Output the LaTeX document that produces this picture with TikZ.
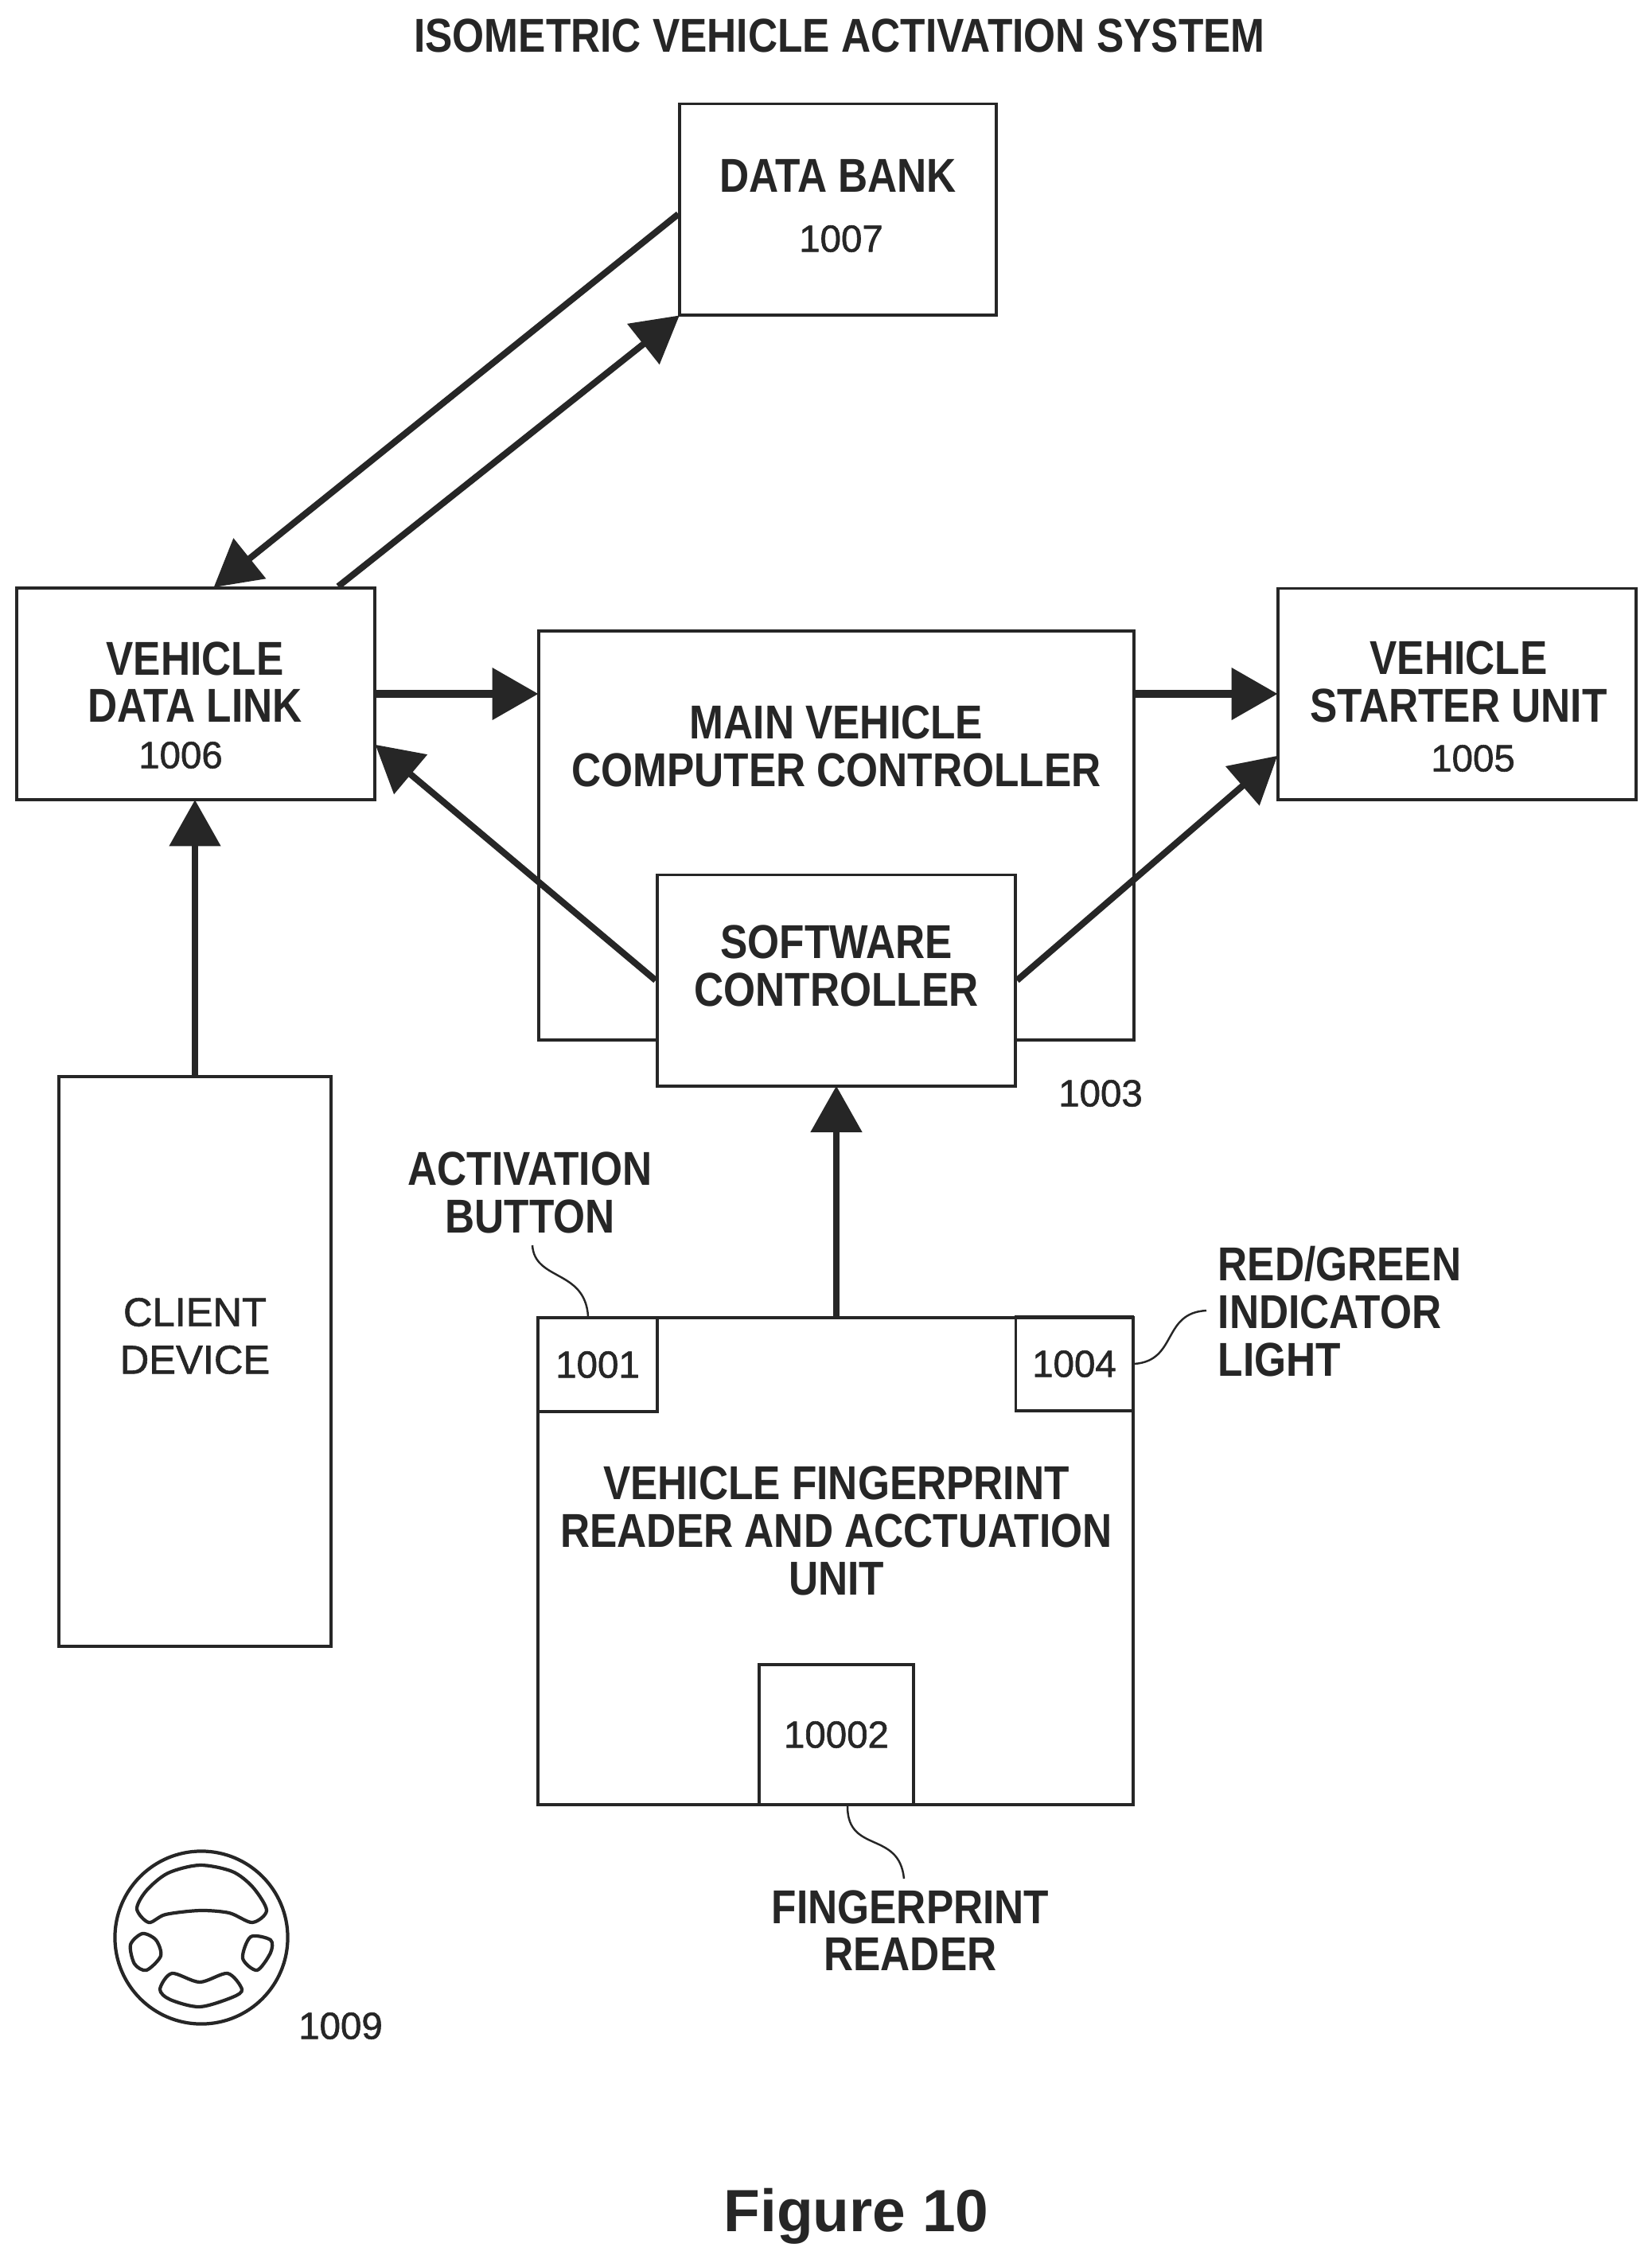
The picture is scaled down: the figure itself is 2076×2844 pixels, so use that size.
\documentclass[tikz,border=0pt]{standalone}
\usepackage{fontspec}
\setmainfont{Liberation Sans}
\newfontfamily\headfamily{Liberation Sans}[FakeStretch=0.86]
\newfontfamily\numfamily{Liberation Sans}[FakeBold=1.2]
\usetikzlibrary{arrows.meta,calc}
\colorlet{ink}{black!85}
\tikzset{
	box/.style={draw=ink,line width=1.1pt,inner sep=0pt},
	head/.style={text=ink,align=center,inner sep=0pt,font=\headfamily\bfseries\fontsize{17pt}{17pt}\selectfont},
	num/.style={text=ink,align=center,inner sep=0pt,font=\numfamily\fontsize{13.5pt}{13.5pt}\selectfont},
	flow/.style={draw=ink,line width=2.3pt,-{Triangle[length=16.5pt,width=18pt]},shorten >=-0.5pt},
	flowh/.style={flow,line width=2.9pt},
	flowv/.style={flow,line width=2pt},
	leader/.style={draw=ink,line width=0.7pt},
	wheelline/.style={draw=ink,line width=1.2pt}
}
\begin{document}
\begin{tikzpicture}[x=0.01cm,y=-0.01cm]
	\useasboundingbox (0,0) rectangle (2076,2844);
	\node[head] (title) at (1055,45) {ISOMETRIC VEHICLE ACTIVATION SYSTEM};
	\node[box,minimum width=3.97cm,minimum height=2.65cm] (bank) at (1053,263) {};
	\node[head] (banktext) at (1053,221) {DATA BANK};
	\node[num] (banknum) at (1057,300) {1007};
	\node[box,minimum width=4.5cm,minimum height=2.66cm] (link) at (246,872) {};
	\node[head] (linktext) at (245,857) {VEHICLE\\DATA LINK};
	\node[num] (linknum) at (227,949) {1006};
	\node[box,minimum width=7.48cm,minimum height=5.14cm] (main) at (1051,1050) {};
	\node[head] (maintext) at (1051,938) {MAIN VEHICLE\\COMPUTER CONTROLLER};
	\node[box,fill=white,minimum width=4.5cm,minimum height=2.65cm] (soft) at (1051,1232) {};
	\node[head] (softtext) at (1051,1214) {SOFTWARE\\CONTROLLER};
	\node[num] (mainnum) at (1383,1374) {1003};
	\node[box,minimum width=4.5cm,minimum height=2.65cm] (starter) at (1831,872) {};
	\node[head] (startertext) at (1833,857) {VEHICLE\\STARTER UNIT};
	\node[num] (starternum) at (1851,953) {1005};
	\node[box,minimum width=3.42cm,minimum height=7.15cm] (client) at (245,1711) {};
	\node[num,font=\numfamily\fontsize{14.4pt}{17pt}\selectfont] (clienttext) at (245,1679) {CLIENT\\DEVICE};
	\node[box,minimum width=7.48cm,minimum height=6.12cm] (unit) at (1050,1962) {};
	\node[head] (unittext) at (1051,1924) {VEHICLE FINGERPRINT\\READER AND ACCTUATION\\UNIT};
	\node[box,num,minimum width=1.5cm,minimum height=1.18cm] (button) at (751,1715) {1001};
	\node[box,num,minimum width=1.47cm,minimum height=1.18cm] (light) at (1350,1714) {1004};
	\node[box,num,minimum width=1.94cm,minimum height=1.76cm] (reader) at (1051,2180) {10002};
	\node[head] (buttontext) at (666,1499) {ACTIVATION\\BUTTON};
	\node[head,align=left,anchor=west] (lighttext) at (1530,1648) {RED/GREEN\\INDICATOR\\LIGHT};
	\node[head] (readertext) at (1144,2426) {FINGERPRINT\\READER};
	\node[num] (wheelnum) at (428,2546) {1009};
	\node[text=ink,inner sep=0pt,font=\bfseries\fontsize{21.3pt}{21.3pt}\selectfont] (figtext) at (1076,2785) {Figure 10};
	\coordinate (buttonend) at (669,1565);
	\coordinate (lightend) at (1516,1647);
	\coordinate (readerend) at (1136,2361);
	\coordinate (buttonfoot) at ($(button.north)+(-12,0)$);
	\coordinate (readerfoot) at ($(reader.south)+(14,0)$);
	\coordinate (bankfoot) at ($(bank.west)+(0,6)$);
	\coordinate (linktip) at ($(link.north)+(24,0)$);
	\coordinate (linkfoot) at ($(link.north)+(179,0)$);
	\coordinate (softtip) at ($(link.east)+(0,65)$);
	\coordinate (startertip) at ($(starter.west)+(0,79)$);
	\draw[flow] (bankfoot) -- (linktip);
	\draw[flow] (linkfoot) -- (bank.south west);
	\draw[flowh] (link.east) -- (link.east -| main.west);
	\draw[flowh] (starter.west -| main.east) -- (starter.west);
	\draw[flow] (soft.west) -- (softtip);
	\draw[flow] (soft.east) -- (startertip);
	\draw[flowv] (client.north) -- (client.north |- link.south);
	\draw[flowv] (soft.south |- unit.north) -- (soft.south);
	\draw[leader] (buttonend) .. controls (672,1610) and (735,1595) .. (buttonfoot);
	\draw[leader] (light.east) .. controls (1480,1710) and (1460,1650) .. (lightend);
	\draw[leader] (readerfoot) .. controls (1065,2330) and (1130,2300) .. (readerend);
	\draw[wheelline] (253,2435) circle (1.085cm);
	\draw[wheelline] plot[smooth cycle] coordinates {(172,2399) (184,2376) (211,2354) (251,2344) (292,2352) (318,2372) (335,2401) (317,2416) (288,2404) (251,2401) (208,2406) (187,2416)};
	\draw[wheelline] plot[smooth cycle] coordinates {(164,2444) (179,2430) (196,2438) (202,2458) (184,2476) (169,2468)};
	\draw[wheelline] plot[smooth cycle] coordinates {(305,2461) (315,2434) (340,2438) (340,2454) (323,2476)};
	\draw[wheelline] plot[smooth cycle] coordinates {(201,2500) (216,2480) (251,2491) (286,2480) (304,2500) (292,2510) (251,2522) (214,2513)};
\end{tikzpicture}
\end{document}
